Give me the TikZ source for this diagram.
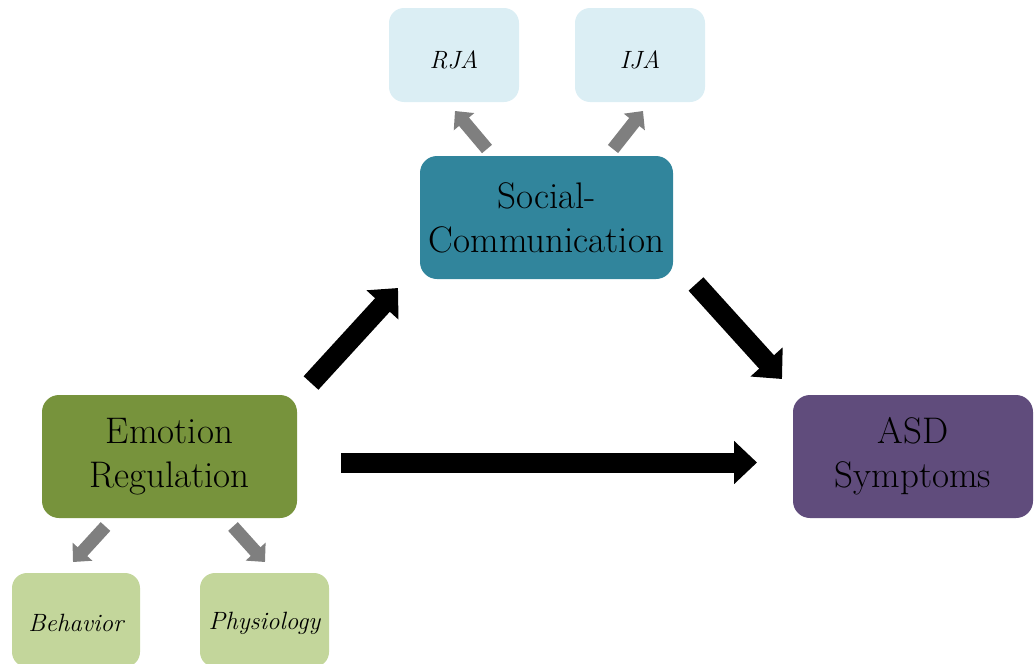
\documentclass[tikz,border=0pt]{standalone}
\usetikzlibrary{arrows.meta}
\definecolor{teal1}{HTML}{31859C}
\definecolor{green1}{HTML}{77933C}
\definecolor{green2}{HTML}{C3D69B}
\definecolor{blue2}{HTML}{DBEEF4}
\definecolor{purple1}{HTML}{604C7C}
\definecolor{arrgray}{HTML}{7F7F7F}
\begin{document}
\begin{tikzpicture}[x=1pt,y=-1pt,
  bigbox/.style={rounded corners=17pt, inner sep=0pt, minimum height=123pt, align=center,
    font=\fontsize{37}{44}\selectfont, text=black},
  smallbox/.style={rounded corners=15pt, inner sep=0pt, minimum width=130pt, minimum height=94pt,
    fill=#1, text=black},
  smalltext/.style={font=\fontsize{25}{28}\selectfont\itshape, inner sep=0pt, text=black},
  blockarrow/.style={line width=20pt, -{Triangle[width=42pt,length=23pt]}, black},
  grayarrow/.style={line width=13pt, -{Triangle[width=26pt,length=14pt]}, arrgray}
]
\useasboundingbox (0,0) rectangle (1034,664);
\clip (0,0) rectangle (1034,664);

\node[smallbox=blue2] (rja) at (454,55) {};
\node[smalltext] (rjat) at (454,60) {RJA};
\node[smallbox=blue2] (ija) at (640,55) {};
\node[smalltext] (ijat) at (640,60) {IJA};
\node[bigbox, fill=teal1, minimum width=253pt] (sc) at (546.5,217.5) {Social-\\Communication};
\node[bigbox, fill=green1, minimum width=255pt] (er) at (169.5,456.5) {Emotion\\Regulation};
\node[bigbox, fill=purple1, minimum width=240pt] (asd) at (913,456.5) {ASD\\Symptoms};
\node[smallbox=green2, minimum width=128pt] (beh) at (76,620) {};
\node[smalltext] (beht) at (76,623) {Behavior};
\node[smallbox=green2, minimum width=129pt] (phy) at (264.5,620) {};
\node[smalltext] (phyt) at (264.5,623) {Physiology};

% black arrows
\coordinate (a1s) at (311,383);
\coordinate (a1e) at (398,288);
\coordinate (a2s) at (696,284);
\coordinate (a2e) at (782,379);
\coordinate (a3s) at (341,462.5);
\coordinate (a3e) at (757,462.5);
\draw[blockarrow] (a1s) -- (a1e);
\draw[blockarrow] (a2s) -- (a2e);
\draw[blockarrow] (a3s) -- (a3e);

% gray arrows
\coordinate (g1s) at (487,149);
\coordinate (g1e) at (455,111);
\coordinate (g2s) at (613,149);
\coordinate (g2e) at (643,111);
\coordinate (g3s) at (105.5,526.5);
\coordinate (g3e) at (73,562);
\coordinate (g4s) at (233,526.5);
\coordinate (g4e) at (265,562);
\draw[grayarrow] (g1s) -- (g1e);
\draw[grayarrow] (g2s) -- (g2e);
\draw[grayarrow] (g3s) -- (g3e);
\draw[grayarrow] (g4s) -- (g4e);
\end{tikzpicture}
\end{document}
